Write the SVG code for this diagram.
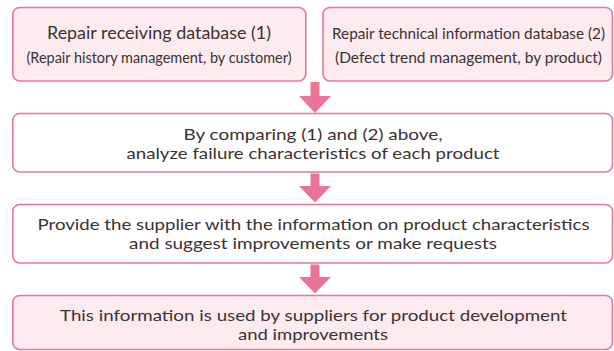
<svg xmlns="http://www.w3.org/2000/svg" width="614" height="351" viewBox="0 0 614 351">
<style>
.box{stroke:#e97793;stroke-width:1.6}
.pink{fill:#fdebef}
.white{fill:#ffffff}
.t{font-family:Lato,"Open Sans","Liberation Sans",sans-serif;fill:#3a3233;text-anchor:middle;font-size:16px}
.h{font-size:16.5px}
.c{font-size:15.5px}
.s{font-size:15px}
.arrow{fill:#e97595}
</style>
<rect width="614" height="351" fill="#ffffff"/>
<g id="node-db1">
<rect class="box pink" x="12.8" y="7.5" width="293" height="73.5" rx="7"/>
<text class="t h" x="159" y="38.5" textLength="224" lengthAdjust="spacingAndGlyphs">Repair receiving database (1)</text>
<text class="t c" x="159" y="63" textLength="265" lengthAdjust="spacingAndGlyphs">(Repair history management, by customer)</text>
</g>
<g id="node-db2">
<rect class="box pink" x="323" y="7.5" width="289.5" height="73.5" rx="7"/>
<text class="t s" x="468.5" y="38.5" textLength="273" lengthAdjust="spacingAndGlyphs">Repair technical information database (2)</text>
<text class="t c" x="468.5" y="63" textLength="267" lengthAdjust="spacingAndGlyphs">(Defect trend management, by product)</text>
</g>
<g id="node-analyze">
<rect class="box white" x="12.8" y="113.5" width="599.7" height="58.5" rx="7"/>
<text class="t" x="313" y="139.5" textLength="259" lengthAdjust="spacingAndGlyphs">By comparing (1) and (2) above,</text>
<text class="t" x="313" y="158.5" textLength="373" lengthAdjust="spacingAndGlyphs">analyze failure characteristics of each product</text>
</g>
<g id="node-provide">
<rect class="box white" x="12.8" y="204.5" width="599.7" height="58.5" rx="7"/>
<text class="t" x="313.5" y="230" textLength="552" lengthAdjust="spacingAndGlyphs">Provide the supplier with the information on product characteristics</text>
<text class="t" x="313" y="249" textLength="368" lengthAdjust="spacingAndGlyphs">and suggest improvements or make requests</text>
</g>
<g id="node-used">
<rect class="box pink" x="12.8" y="295.5" width="599.7" height="54" rx="7"/>
<text class="t" x="313.5" y="320.5" textLength="507" lengthAdjust="spacingAndGlyphs">This information is used by suppliers for product development</text>
<text class="t" x="313" y="339.5" textLength="150" lengthAdjust="spacingAndGlyphs">and improvements</text>
</g>
<g id="connectors">
<path class="arrow" d="M310.5 82 H319.5 V96 H331 L315 113 L299 96 H310.5 Z"/>
<path class="arrow" d="M310.5 173.5 H319.5 V186 H331 L315 202.5 L299 186 H310.5 Z"/>
<path class="arrow" d="M310.5 264.5 H319.5 V277 H331 L315 293.5 L299 277 H310.5 Z"/>
</g>
</svg>
